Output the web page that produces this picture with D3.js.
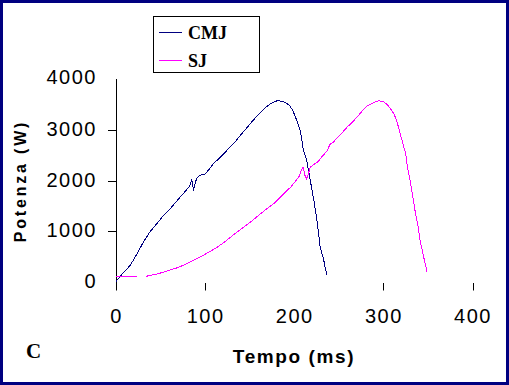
<!DOCTYPE html>
<html>
<head>
<meta charset="utf-8">
<script src="https://cdn.jsdelivr.net/npm/d3@7"></script>
<style>
  html, body { margin: 0; padding: 0; background: #fff; }
  svg { display: block; }
</style>
</head>
<body>
<svg id="chart"></svg>
<script>
// CMJ curve (time ms, power W)
const cmjTime  = [0, 8, 16, 24, 31, 38, 46, 53, 61, 67, 72, 79, 83, 85, 87, 89, 91, 94, 100, 105, 109, 117, 124, 132, 139, 148, 158, 166, 173, 178, 182, 188, 194, 198, 201, 204, 207, 210, 214, 218, 222, 226, 229, 233, 235, 237];
const cmjPower = [0, 170, 320, 560, 790, 980, 1150, 1300, 1445, 1570, 1673, 1810, 1900, 2030, 1800, 1960, 2060, 2100, 2130, 2230, 2327, 2460, 2588, 2730, 2882, 3070, 3275, 3420, 3516, 3565, 3582, 3560, 3500, 3400, 3275, 3130, 2980, 2620, 2392, 2000, 1608, 1150, 692, 431, 250, 120];

// SJ curve: flat start, a short gap (null), then the rise and fall
const sjTime  = [0, 24, 28, 34, 44, 53, 60, 68, 78, 87, 95, 102, 112, 121, 130, 139, 149, 158, 167, 177, 186, 196, 205, 208, 210, 212, 214, 218, 222, 226, 231, 237, 240, 244, 248, 254, 259, 265, 270, 276, 282, 289, 295, 300, 304, 308, 312, 315, 317, 321, 325, 327, 330, 333, 336, 339, 341, 345, 349];
const sjPower = [92, 92, null, 104, 140, 183, 225, 268, 340, 418, 490, 562, 660, 771, 900, 1020, 1150, 1281, 1410, 1543, 1700, 1869, 2065, 2200, 2261, 2100, 2033, 2261, 2320, 2359, 2470, 2588, 2716, 2760, 2847, 2950, 3052, 3150, 3248, 3370, 3480, 3542, 3578, 3560, 3510, 3420, 3314, 3180, 3052, 2790, 2529, 2268, 2006, 1679, 1352, 1091, 830, 503, 189];

const xTicks = [0, 100, 200, 300, 400];
const yTicks = [0, 1000, 2000, 3000, 4000];
const seriesNames = ["CMJ", "SJ"];
const seriesColors = ["#000080", "#ff00ff"];

const width = 509, height = 385;
const svg = d3.select("#chart").attr("width", width).attr("height", height);

// frame
svg.append("rect")
  .attr("x", 1.5).attr("y", 1.5)
  .attr("width", width - 3).attr("height", height - 3)
  .attr("fill", "#fff").attr("stroke", "#000080").attr("stroke-width", 3);

const x = d3.scaleLinear().domain([0, 400]).range([116, 472.5]);
const y = d3.scaleLinear().domain([0, 4000]).range([281.5, 79.5]);
const axisBottomY = 290.5;

const tickFont = "'Liberation Sans', Arial, sans-serif";

// y axis line + ticks (only the inner ones have marks)
svg.append("line")
  .attr("x1", 116.5).attr("x2", 116.5)
  .attr("y1", 79).attr("y2", axisBottomY)
  .attr("stroke", "#000").attr("stroke-width", 1);

svg.append("g").selectAll("line")
  .data(yTicks.filter(d => d > 0 && d < 4000))
  .enter().append("line")
  .attr("x1", 108).attr("x2", 116.5)
  .attr("y1", d => Math.round(y(d)) + 0.5)
  .attr("y2", d => Math.round(y(d)) + 0.5)
  .attr("stroke", "#000");

svg.append("g").selectAll("text")
  .data(yTicks)
  .enter().append("text")
  .attr("x", 97)
  .attr("y", d => y(d) - (d === 4000 ? 3 : 1))
  .attr("dy", "0.35em")
  .attr("text-anchor", "end")
  .style("font-family", tickFont)
  .style("font-size", "20px")
  .style("letter-spacing", "1.5px")
  .text(d => d);

// x ticks point up from an unseen baseline; the 200 mark is absent in the original
svg.append("g").selectAll("line")
  .data(xTicks.filter(d => d !== 0 && d !== 200))
  .enter().append("line")
  .attr("x1", d => Math.round(x(d)) + 0.5)
  .attr("x2", d => Math.round(x(d)) + 0.5)
  .attr("y1", 283).attr("y2", axisBottomY)
  .attr("stroke", "#000");

svg.append("g").selectAll("text")
  .data(xTicks)
  .enter().append("text")
  .attr("x", d => x(d) + 0.5)
  .attr("y", 323)
  .attr("text-anchor", "middle")
  .style("font-family", tickFont)
  .style("font-size", "20px")
  .style("letter-spacing", "1.5px")
  .text(d => d);

// axis titles
svg.append("text")
  .attr("x", 294).attr("y", 363)
  .attr("text-anchor", "middle")
  .style("font-family", tickFont)
  .style("font-size", "19px")
  .style("font-weight", "bold")
  .style("letter-spacing", "1.6px")
  .text("Tempo (ms)");

svg.append("text")
  .attr("transform", "translate(25.5,181) rotate(-90)")
  .attr("text-anchor", "middle")
  .style("font-family", tickFont)
  .style("font-size", "16px")
  .style("font-weight", "bold")
  .style("letter-spacing", "2.8px")
  .text("Potenza (W)");

svg.append("text")
  .attr("x", 26).attr("y", 358)
  .style("font-family", "'Liberation Serif', 'Times New Roman', serif")
  .style("font-size", "21px")
  .style("font-weight", "bold")
  .text("C");

// series
const line = d3.line()
  .defined(d => d[1] != null)
  .x(d => x(d[0]))
  .y(d => y(d[1]));

const cmj = cmjTime.map((t, i) => [t, cmjPower[i]]);
const sj = sjTime.map((t, i) => [t, sjPower[i]]);

[cmj, sj].forEach((data, i) => {
  svg.append("path")
    .datum(data)
    .attr("fill", "none")
    .attr("stroke", seriesColors[i])
    .attr("stroke-width", 1)
    .attr("shape-rendering", "crispEdges")
    .attr("d", line);
});

// legend
const legend = svg.append("g");
legend.append("rect")
  .attr("x", 153.5).attr("y", 16.5)
  .attr("width", 106).attr("height", 56)
  .attr("fill", "#fff").attr("stroke", "#000");

const rows = legend.selectAll("g.row")
  .data(seriesNames)
  .enter().append("g").attr("class", "row")
  .attr("transform", (d, i) => `translate(0,${i === 0 ? 32.5 : 60.5})`);

rows.append("line")
  .attr("x1", 159).attr("x2", 182)
  .attr("stroke", (d, i) => seriesColors[i])
  .attr("stroke-width", 1);

rows.append("text")
  .attr("x", 188).attr("y", 6)
  .style("font-family", "'Liberation Serif', 'Times New Roman', serif")
  .style("font-size", "18px")
  .style("font-weight", "bold")
  .text(d => d);
</script>
</body>
</html>
